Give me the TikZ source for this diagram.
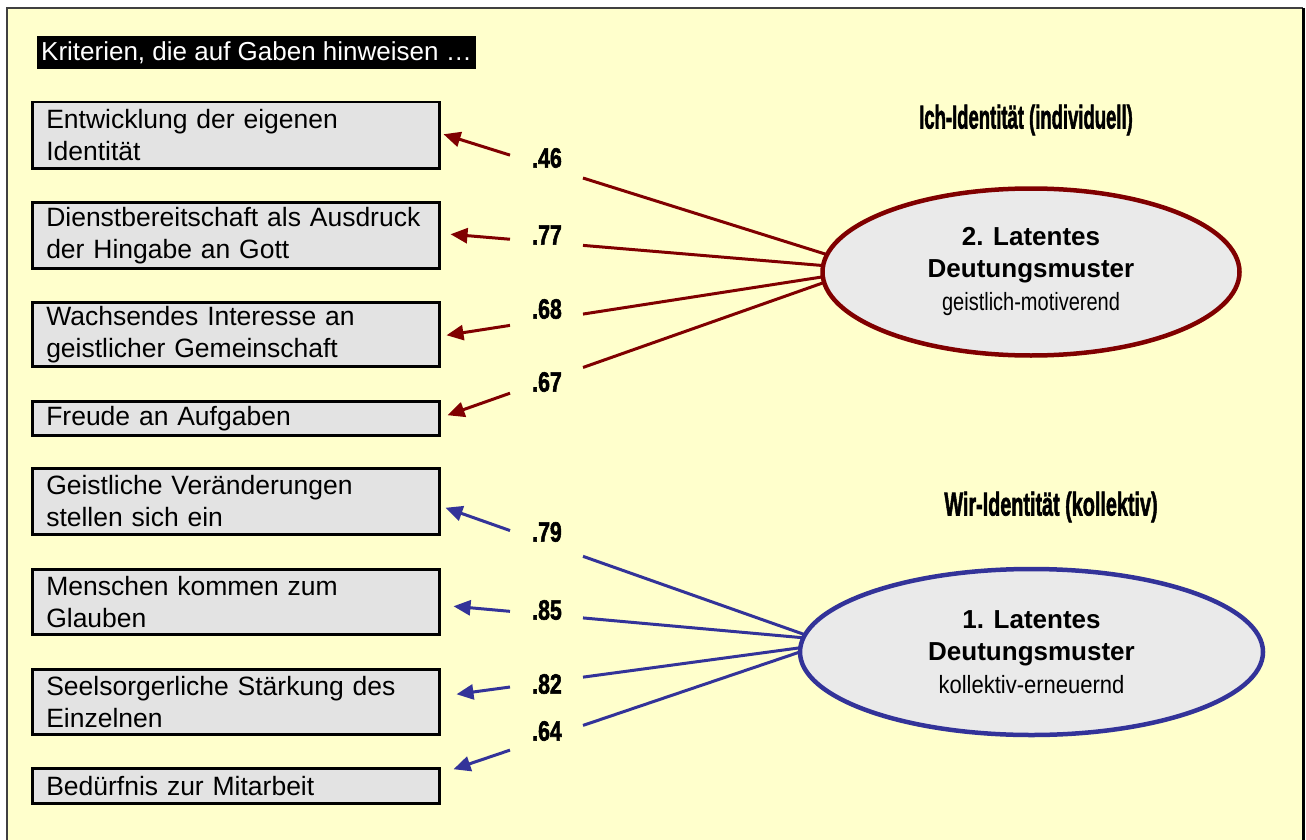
\documentclass[tikz,border=0pt]{standalone}
\usepackage{fontspec}
\setmainfont{Liberation Sans}
\newfontfamily\heavyfont{Liberation Sans Bold}[FakeBold=2.2]
\usepackage{graphicx}
\usetikzlibrary{shapes.geometric,arrows.meta,calc}
\definecolor{bgyellow}{HTML}{FFFFCC}
\definecolor{boxgray}{HTML}{E3E3E3}
\definecolor{ellgray}{HTML}{EAEAEA}
\definecolor{darkred}{HTML}{800000}
\definecolor{darkblue}{HTML}{333399}
\pgfdeclarelayer{back}
\pgfdeclarelayer{links}
\pgfsetlayers{back,links,main}
% line from #2 to #3 with a gap between x=510 and x=583 for the label
\newcommand\gapline[3]{%
  \draw[#1] let \p1=(#2), \p2=(#3),
    \n1={scalar((\x1-583pt)/(\x1-\x2))}, \n2={scalar((\x1-510pt)/(\x1-\x2))} in
    (\p1) -- ($(\p1)!\n1!(\p2)$) ($(\p1)!\n2!(\p2)$) -- (\p2);}
\begin{document}
\begin{tikzpicture}[x=1pt,y=-1pt,
  crit/.style={draw=black, line width=2.5pt, fill=boxgray, anchor=north west,
    inner xsep=14pt, inner ysep=0pt, text width=379pt, align=left,
    font=\fontsize{26.5}{32}\selectfont},
  twoline/.style={crit, minimum height=66pt},
  oneline/.style={crit, minimum height=34pt},
  latent/.style={ellipse, line width=4.5pt, fill=ellgray, align=center,
    font=\fontsize{26}{32}\selectfont\bfseries},
  lbl/.style={font=\fontsize{28}{28}\selectfont\heavyfont, inner sep=0pt},
  hdr/.style={font=\fontsize{33}{33}\selectfont\heavyfont, inner sep=0pt},
  redlink/.style={draw=darkred, line width=3pt, -{Triangle[length=17pt,width=15pt]}},
  bluelink/.style={draw=darkblue, line width=3pt, -{Triangle[length=17pt,width=15pt]}},
]
\useasboundingbox (0,0) rectangle (1306,840);
\begin{pgfonlayer}{back}
  \fill[white] (0,0) rectangle (1306,840);
  \fill[bgyellow] (7,8) rectangle (1303,840);
  \draw[line width=1.5pt, draw=black!75] (7,840) -- (7,8) -- (1303,8);
  \draw[line width=3pt] (1303.5,8) -- (1303.5,840);
\end{pgfonlayer}

% title
\node[fill=black, text=white, anchor=west, inner xsep=4pt, inner ysep=0pt,
  minimum height=33pt, font=\fontsize{26}{32}\selectfont] (title) at (37,52.5)
  {Kriterien, die auf Gaben hinweisen …};

% criteria boxes
\node[twoline] (b1) at (31,101) {Entwicklung der eigenen\\Identität};
\node[twoline] (b2) at (31,201) {Dienstbereitschaft als Ausdruck\\der Hingabe an Gott};
\node[twoline, minimum height=64pt] (b3) at (31,301) {Wachsendes Interesse an\\geistlicher Gemeinschaft};
\node[oneline] (b4) at (31,400) {Freude an Aufgaben};
\node[twoline] (b5) at (31,467) {Geistliche Veränderungen\\stellen sich ein};
\node[twoline, minimum height=65pt] (b6) at (31,568) {Menschen kommen zum\\Glauben};
\node[twoline, minimum height=65pt] (b7) at (31,668) {Seelsorgerliche Stärkung des\\Einzelnen};
\node[oneline, minimum height=35pt] (b8) at (31,767) {Bedürfnis zur Mitarbeit};

% headers
\node[hdr] (h2) at (1026,120) {\scalebox{0.56}[1]{Ich-Identität (individuell)}};
\node[hdr] (h1) at (1051,507) {\scalebox{0.6}[1]{Wir-Identität (kollektiv)}};

% latent ellipses
\node[latent, draw=darkred, minimum width=417pt, minimum height=167pt] (e2) at (1031,272)
  {2. Latentes\\Deutungsmuster\\[1pt]{\mdseries\fontsize{25}{30}\selectfont\scalebox{0.8}[1]{geistlich-motiverend}}};
\node[latent, draw=darkblue, minimum width=463pt, minimum height=166pt] (e1) at (1031.5,652)
  {1. Latentes\\Deutungsmuster\\[1pt]{\mdseries\fontsize{25}{30}\selectfont\scalebox{0.88}[1]{kollektiv-erneuernd}}};

% labels
\node[lbl] (l1) at (547,158) {\scalebox{0.76}[1]{.46}};
\node[lbl] (l2) at (547,235) {\scalebox{0.76}[1]{.77}};
\node[lbl] (l3) at (547,309) {\scalebox{0.76}[1]{.68}};
\node[lbl] (l4) at (547,382) {\scalebox{0.76}[1]{.67}};
\node[lbl] (l5) at (547,532) {\scalebox{0.76}[1]{.79}};
\node[lbl] (l6) at (547,610) {\scalebox{0.76}[1]{.85}};
\node[lbl] (l7) at (547,684) {\scalebox{0.76}[1]{.82}};
\node[lbl] (l8) at (547,731) {\scalebox{0.76}[1]{.64}};

% attachment coordinates
\coordinate (r1) at ($(e2.west)+(8,-17)$);
\coordinate (r2) at ($(e2.west)+(8,-6)$);
\coordinate (r3) at ($(e2.west)+(8,4)$);
\coordinate (r4) at ($(e2.west)+(8,9)$);
\coordinate (u1) at ($(e1.west)+(8,-17)$);
\coordinate (u2) at ($(e1.west)+(8,-14)$);
\coordinate (u3) at ($(e1.west)+(8,-5)$);
\coordinate (u4) at ($(e1.west)+(8,-2)$);
\coordinate (t1) at ($(b1.east)+(3,-1)$);
\coordinate (t2) at ($(b2.east)+(10,-1)$);
\coordinate (t3) at ($(b3.east)+(6,1)$);
\coordinate (t4) at ($(b4.east)+(7,-3)$);
\coordinate (t5) at ($(b5.east)+(5,6.5)$);
\coordinate (t6) at ($(b6.east)+(13,4.5)$);
\coordinate (t7) at ($(b7.east)+(16,-7.5)$);
\coordinate (t8) at ($(b8.east)+(13,-16.5)$);

\begin{pgfonlayer}{links}
  \gapline{redlink}{r1}{t1}
  \gapline{redlink}{r2}{t2}
  \gapline{redlink}{r3}{t3}
  \gapline{redlink}{r4}{t4}
  \gapline{bluelink}{u1}{t5}
  \gapline{bluelink}{u2}{t6}
  \gapline{bluelink}{u3}{t7}
  \gapline{bluelink}{u4}{t8}
\end{pgfonlayer}
\end{tikzpicture}
\end{document}
